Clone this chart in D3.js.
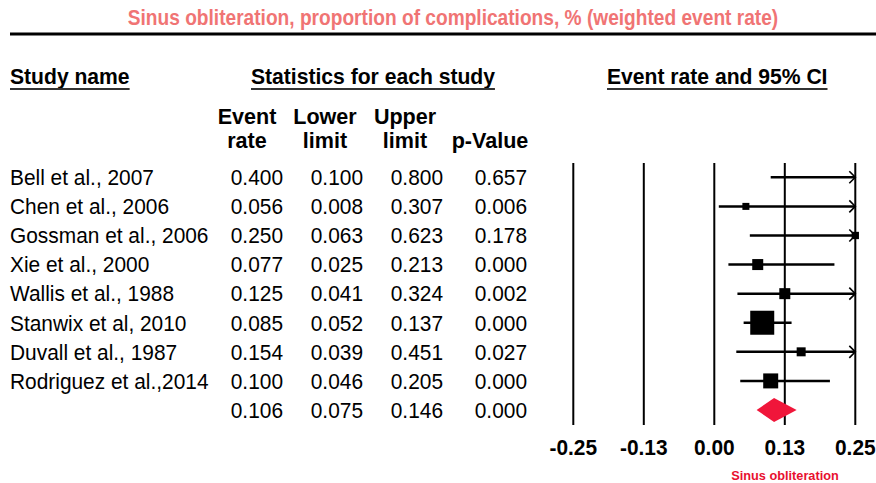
<!DOCTYPE html>
<html>
<head>
<meta charset="utf-8">
<script src="https://cdn.jsdelivr.net/npm/d3@7"></script>
<style>
  html, body { margin: 0; padding: 0; background: #fff; }
  svg { display: block; }
  text { font-family: "Liberation Sans", Arial, Helvetica, sans-serif; }
</style>
</head>
<body>
<svg id="chart" width="876" height="483"></svg>
<script>
// Study-level data
const studies = ["Bell et al., 2007", "Chen et al., 2006", "Gossman et al., 2006", "Xie et al., 2000",
                 "Wallis et al., 1988", "Stanwix et al, 2010", "Duvall et al., 1987", "Rodriguez et al.,2014"];
const eventRate = [0.400, 0.056, 0.250, 0.077, 0.125, 0.085, 0.154, 0.100];
const lowerLimit = [0.100, 0.008, 0.063, 0.025, 0.041, 0.052, 0.039, 0.046];
const upperLimit = [0.800, 0.307, 0.623, 0.213, 0.324, 0.137, 0.451, 0.205];
const pValue = [0.657, 0.006, 0.178, 0.000, 0.002, 0.000, 0.027, 0.000];
const relWeight = [4.5, 3.4, 3.7, 8.4, 8.4, 40.0, 5.6, 15.6];

// Pooled estimate
const pooled = { rate: 0.106, lower: 0.075, upper: 0.146, p: 0.000 };

// Axis
const tickValues = [-0.25, -0.125, 0, 0.125, 0.25];
const tickLabels = ["-0.25", "-0.13", "0.00", "0.13", "0.25"];

const svg = d3.select("#chart");
const fmt = d3.format(".3f");

const x = d3.scaleLinear().domain([-0.25, 0.25]).range([573.3, 855.3]);
const rowY = d3.scalePoint().domain(d3.range(studies.length + 1)).range([177.3, 410]);
const boxSize = d3.scaleSqrt().domain([0, 40]).range([0, 24]);

// text helper with horizontal condensing
function txt(g, s, px, py, opts) {
  const o = Object.assign({ size: 20, weight: "normal", anchor: "start", sx: 1, fill: "#000" }, opts || {});
  return g.append("text")
    .attr("transform", `translate(${px},${py}) scale(${o.sx},1)`)
    .attr("text-anchor", o.anchor)
    .attr("font-size", o.size)
    .attr("font-weight", o.weight)
    .attr("fill", o.fill)
    .text(s);
}

// Title and rule
txt(svg, "Sinus obliteration, proportion of complications, % (weighted event rate)", 453, 25,
    { size: 22, weight: "bold", anchor: "middle", sx: 0.87, fill: "#f07474" });
svg.append("line").attr("x1", 10).attr("x2", 876).attr("y1", 34).attr("y2", 34)
  .attr("stroke", "#000").attr("stroke-width", 3);

// Section headers with underline
const headers = [
  { t: "Study name", x: 10 },
  { t: "Statistics for each study", x: 251 },
  { t: "Event rate and 95% CI", x: 607 }
];
const hsx = 0.96;
headers.forEach(h => {
  const el = txt(svg, h.t, h.x, 84, { size: 22, weight: "bold", sx: hsx });
  const w = el.node().getBBox().width * hsx;
  svg.append("line").attr("x1", h.x).attr("x2", h.x + w).attr("y1", 89).attr("y2", 89)
    .attr("stroke", "#333").attr("stroke-width", 2);
});

// Column headers
const colX = [283, 363, 443, 527];
const colHead = [["Event", "rate"], ["Lower", "limit"], ["Upper", "limit"], ["", "p-Value"]];
const colCenter = [247, 325, 405, 490];
colHead.forEach((c, i) => {
  if (c[0]) txt(svg, c[0], colCenter[i], 124, { size: 22, weight: "bold", anchor: "middle", sx: 0.98 });
  txt(svg, c[1], colCenter[i], 148, { size: 22, weight: "bold", anchor: "middle", sx: 0.98 });
});

// Table rows
const table = svg.append("g");
studies.forEach((s, i) => {
  const y = rowY(i) + 7.8;
  txt(table, s, 10, y, { size: 22, sx: 0.95 });
  [eventRate[i], lowerLimit[i], upperLimit[i], pValue[i]].forEach((v, j) => {
    txt(table, fmt(v), colX[j], y, { size: 22, anchor: "end", sx: 0.95 });
  });
});
{
  const y = rowY(studies.length) + 7.8;
  [pooled.rate, pooled.lower, pooled.upper, pooled.p].forEach((v, j) => {
    txt(table, fmt(v), colX[j], y, { size: 22, anchor: "end", sx: 0.95 });
  });
}

// Forest plot grid lines at ticks
const plot = svg.append("g");
plot.selectAll("line.grid").data(tickValues).enter().append("line")
  .attr("class", "grid")
  .attr("x1", d => x(d)).attr("x2", d => x(d))
  .attr("y1", 163).attr("y2", 425)
  .attr("stroke", "#000").attr("stroke-width", 2);

// Tick labels
tickValues.forEach((t, i) => {
  txt(plot, tickLabels[i], x(t), 455, { size: 22, weight: "bold", anchor: "middle", sx: 0.95 });
});

// Confidence intervals, clipped at axis ends with arrowheads
const [xMin, xMax] = x.domain();
studies.forEach((s, i) => {
  const y = rowY(i);
  const lo = Math.max(lowerLimit[i], xMin), hi = Math.min(upperLimit[i], xMax);
  plot.append("line").attr("x1", x(lo)).attr("x2", x(hi)).attr("y1", y).attr("y2", y)
    .attr("stroke", "#000").attr("stroke-width", 2.5);
  if (upperLimit[i] > xMax) {
    plot.append("path")
      .attr("d", `M${x(xMax) - 6},${y - 6} L${x(xMax)},${y} L${x(xMax) - 6},${y + 6}`)
      .attr("fill", "none").attr("stroke", "#000").attr("stroke-width", 1.6);
  }
  if (eventRate[i] <= xMax) {
    const b = boxSize(relWeight[i]);
    plot.append("rect").attr("x", x(eventRate[i]) - b / 2).attr("y", y - b / 2)
      .attr("width", b).attr("height", b).attr("fill", "#000");
  }
});

// Pooled diamond
{
  const y = rowY(studies.length);
  const h = 12;
  plot.append("path")
    .attr("d", `M${x(pooled.lower)},${y} L${x(pooled.rate)},${y - h} L${x(pooled.upper)},${y} L${x(pooled.rate)},${y + h} Z`)
    .attr("fill", "#f0163a");
}

// Axis caption
txt(svg, "Sinus obliteration", 785, 480, { size: 13, weight: "bold", anchor: "middle", sx: 0.98, fill: "#e8102f" });
</script>
</body>
</html>
